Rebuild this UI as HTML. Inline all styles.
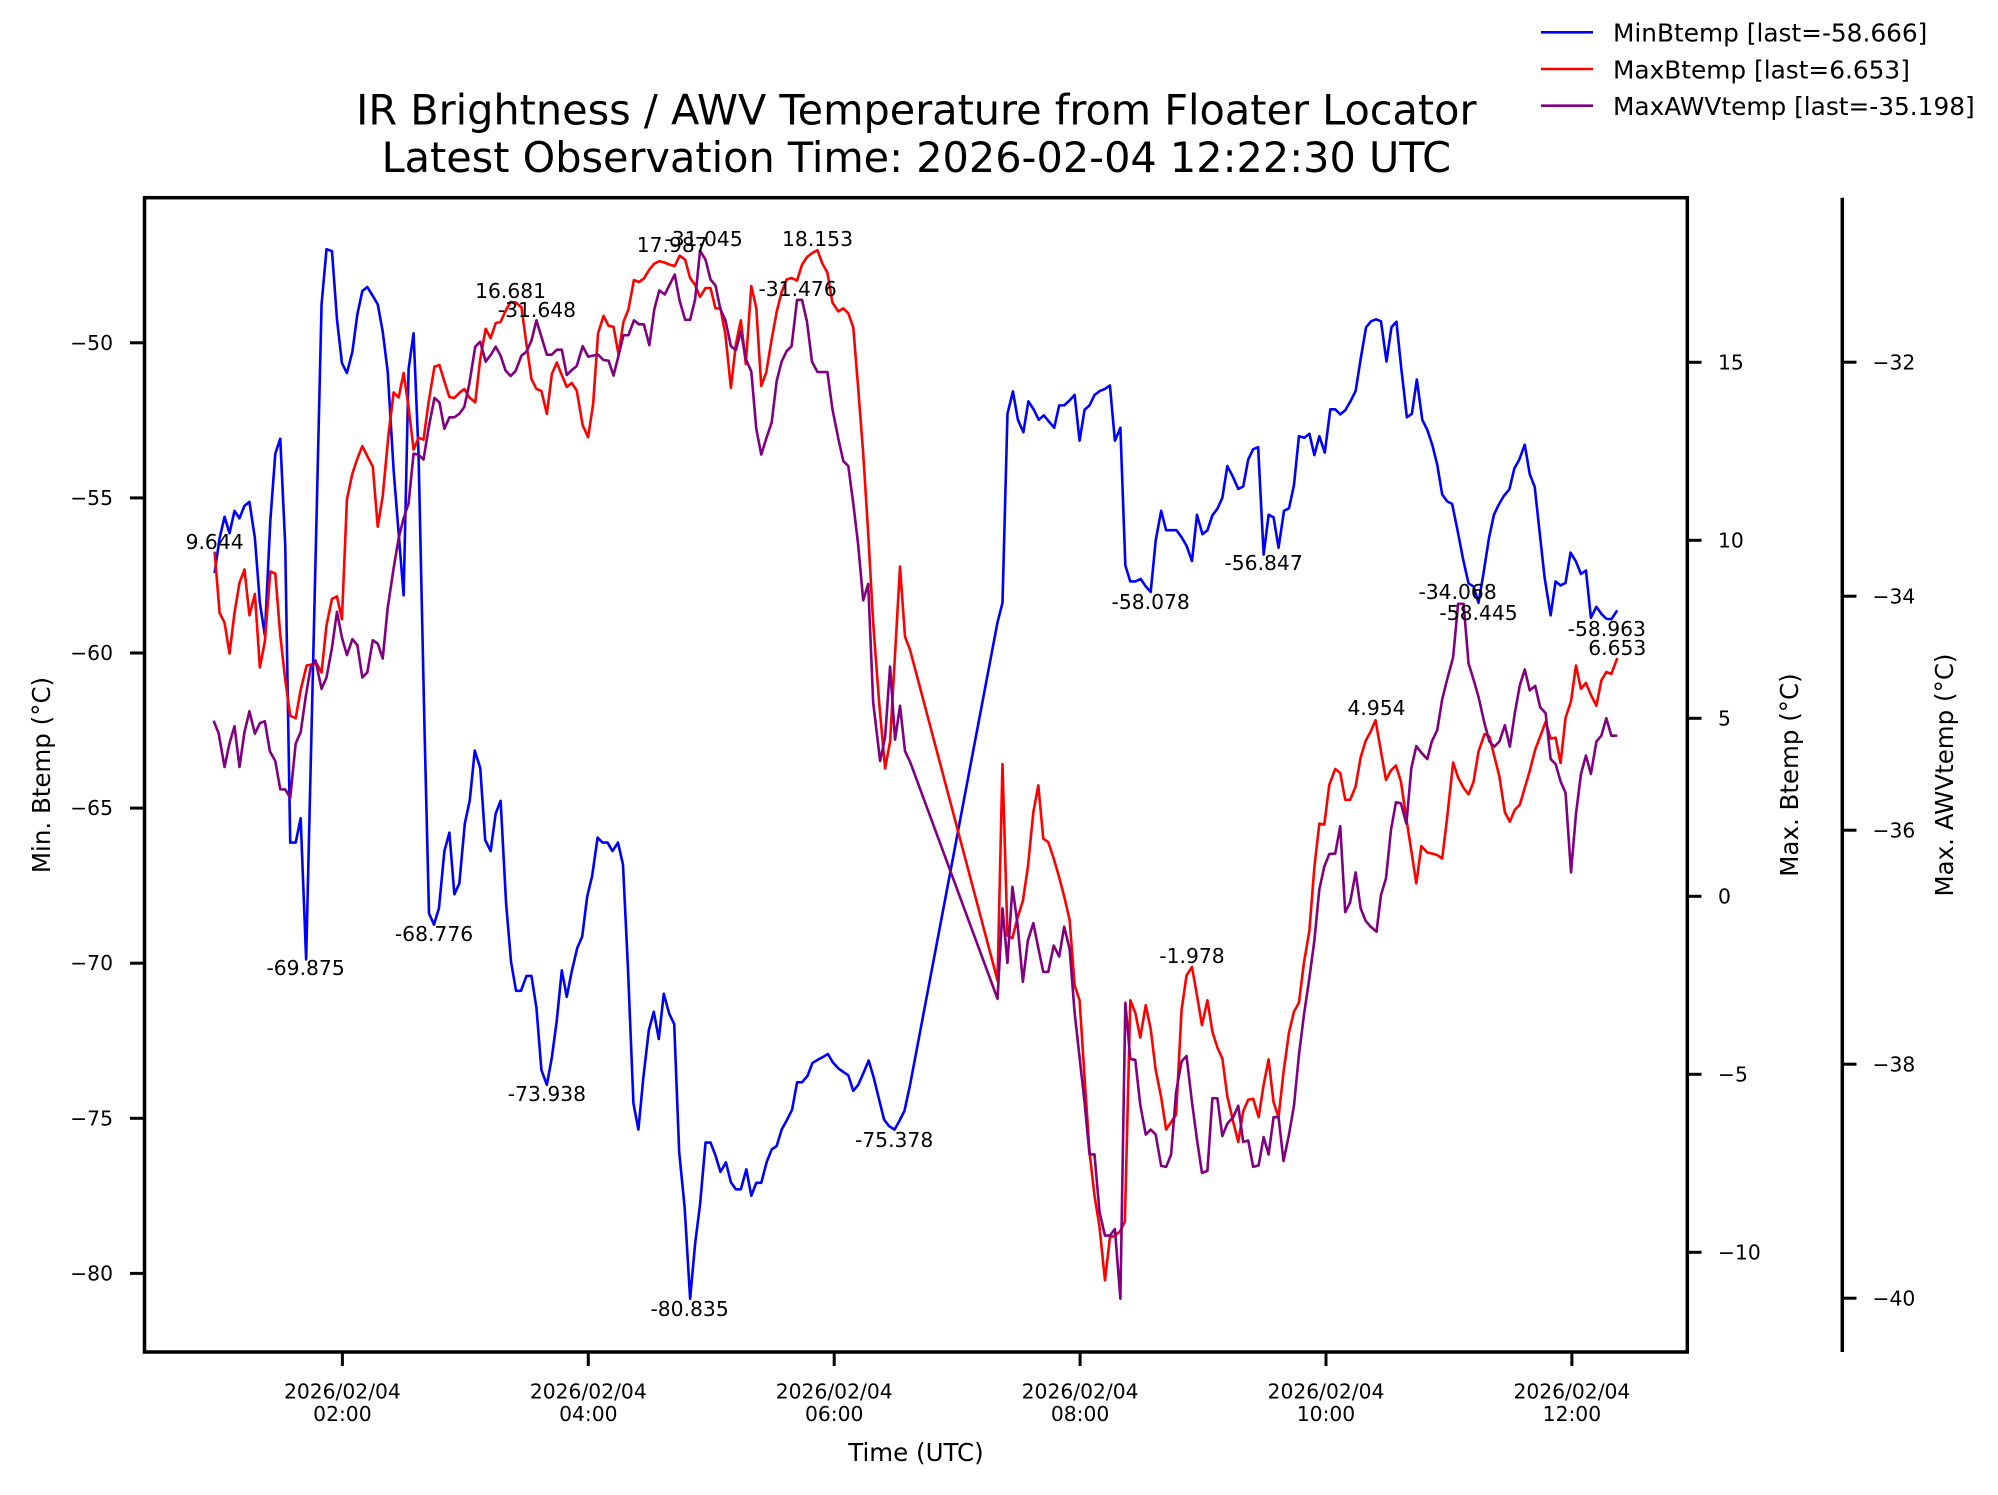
<!DOCTYPE html>
<html><head><meta charset="utf-8"><style>
html,body{margin:0;padding:0;background:#fff;}
svg{display:block;}
text{font-family:"DejaVu Sans","Liberation Sans",sans-serif;fill:#000;}
.tk{font-size:20.3px;}
.an{font-size:20.3px;text-anchor:middle;}
.ln{fill:none;stroke-width:2.6;stroke-linejoin:round;vector-effect:non-scaling-stroke;}
</style></head><body>
<svg width="1998" height="1495" viewBox="0 0 1998 1495" xmlns="http://www.w3.org/2000/svg">
<rect width="1998" height="1495" fill="#fff"/>

<!-- Title -->
<text x="916.3" y="124.5" font-size="41.4" text-anchor="middle">IR Brightness / AWV Temperature from Floater Locator</text>
<text x="916.3" y="172" font-size="41.4" text-anchor="middle">Latest Observation Time: 2026-02-04 12:22:30 UTC</text>

<!-- Legend -->
<line x1="1541" y1="32.3" x2="1593" y2="32.3" stroke="#0000ff" stroke-width="2.6"/>
<line x1="1541" y1="69" x2="1593" y2="69" stroke="#ff0000" stroke-width="2.6"/>
<line x1="1541" y1="105.7" x2="1593" y2="105.7" stroke="#800080" stroke-width="2.6"/>
<text x="1613" y="41.7" font-size="24.8">MinBtemp [last=-58.666]</text>
<text x="1613" y="78.4" font-size="24.8">MaxBtemp [last=6.653]</text>
<text x="1613" y="115.1" font-size="24.8">MaxAWVtemp [last=-35.198]</text>

<!-- Data -->
<g transform="translate(140,190) scale(0.4974)">
<polyline class="ln" stroke="#0000ff" points="150,770 160,700 170,657 180,690 190,645 200,660 210,635 220,627 231,700 241,830 251,895 262,665 272,530 282,500 292,715 302,1312 313,1312 323,1263 334,1547 365,230 375,119 386,123 396,260 406,348 416,368 427,325 437,250 447,203 457,195 468,213 478,230 488,285 498,365 510,565 520,690 530,815 540,360 550,288 560,530 572,1084 581,1454 591,1477 601,1444 612,1329 622,1292 632,1416 642,1394 653,1274 663,1227 673,1127 684,1162 694,1307 705,1329 715,1254 725,1228 736,1434 746,1552 756,1610 766,1610 777,1580 787,1580 797,1644 807,1769 818,1799 828,1744 838,1669 848,1569 858,1622 868,1571 879,1524 889,1501 899,1421 909,1379 920,1302 930,1312 940,1312 950,1329 961,1312 971,1356 981,1564 992,1836 1002,1889 1012,1784 1023,1689 1033,1652 1043,1707 1053,1616 1064,1656 1074,1677 1084,1934 1095,2046 1106,2229 1116,2119 1126,2039 1137,1915 1147,1915 1157,1941 1167,1974 1178,1955 1188,1995 1198,2009 1208,2009 1219,1969 1229,2022 1239,1996 1249,1996 1260,1954 1270,1929 1280,1922 1290,1889 1301,1869 1311,1849 1321,1794 1331,1794 1342,1781 1352,1755 1362,1749 1373,1743 1383,1737 1393,1754 1404,1766 1414,1773 1424,1780 1434,1811 1444,1799 1455,1774 1465,1750 1475,1784 1486,1829 1496,1869 1506,1882 1517,1889 1527,1871 1537,1851 1548,1800 1724,869 1734,830 1744,450 1755,405 1765,462 1776,487 1786,425 1796,440 1807,462 1817,453 1827,465 1838,478 1848,433 1858,433 1868,424 1879,412 1889,504 1899,442 1909,433 1919,412 1930,404 1940,400 1950,393 1960,504 1971,478 1981,755 1991,787 2001,787 2012,782 2022,797 2032,808 2042,705 2053,645 2063,684 2073,684 2084,684 2094,698 2104,715 2115,746 2125,653 2136,692 2146,684 2156,654 2166,641 2176,619 2186,555 2197,576 2208,601 2218,596 2228,542 2238,521 2248,517 2259,733 2269,653 2279,658 2289,719 2300,645 2310,640 2320,593 2330,495 2341,498 2351,490 2361,533 2371,495 2382,528 2393,441 2403,441 2413,451 2423,443 2434,424 2444,404 2454,340 2465,276 2475,264 2485,260 2495,264 2506,345 2516,276 2526,265 2536,361 2547,457 2557,450 2567,381 2578,462 2588,482 2598,512 2608,552 2618,612 2628,626 2638,631 2650,690 2660,742 2671,791 2681,797 2691,830 2701,771 2712,700 2722,653 2732,632 2742,615 2753,602 2763,560 2773,542 2784,512 2794,571 2804,597 2814,689 2824,780 2836,855 2846,787 2856,795 2866,790 2876,729 2887,747 2897,772 2907,765 2917,860 2928,838 2938,852 2948,862 2958,863 2970,845"/>
<polyline class="ln" stroke="#ff0000" points="150,727 160,850 170,870 180,932 190,850 200,790 210,763 220,855 231,812 241,960 251,908 262,767 272,771 282,895 292,985 302,1057 313,1062 323,1005 335,956 345,954 355,952 365,970 375,875 386,822 396,817 406,863 416,622 427,570 437,540 447,515 457,535 468,556 478,677 488,615 500,488 510,407 520,417 530,368 540,437 550,522 560,498 570,502 580,428 592,355 602,352 612,385 622,416 632,418 642,408 652,400 662,417 674,427 684,340 695,279 705,298 715,268 725,265 735,243 745,225 755,226 767,236 777,310 787,380 797,400 807,404 818,450 828,370 838,347 848,372 858,396 868,388 878,403 890,473 901,497 911,430 921,288 932,253 942,273 952,275 962,330 972,265 982,240 993,181 1003,185 1013,178 1024,160 1034,148 1044,143 1055,146 1065,150 1075,153 1085,132 1096,140 1106,177 1116,191 1126,215 1137,197 1147,197 1157,238 1167,238 1177,291 1188,398 1198,310 1208,262 1218,350 1229,193 1239,237 1249,394 1259,367 1270,300 1280,245 1290,205 1300,180 1310,177 1321,182 1331,150 1341,135 1351,127 1362,121 1372,148 1382,166 1392,226 1404,244 1414,238 1424,248 1434,276 1444,400 1454,530 1464,690 1474,870 1486,1030 1498,1163 1508,1109 1528,757 1538,898 1548,924 1724,1589 1734,1154 1744,1499 1754,1504 1764,1464 1775,1429 1785,1362 1796,1251 1806,1197 1816,1304 1826,1311 1837,1344 1848,1382 1859,1424 1869,1468 1879,1599 1889,1629 1899,1784 1909,1934 1919,2022 1929,2084 1940,2192 1950,2106 1960,2102 1970,2094 1980,2074 1991,1629 2001,1654 2011,1704 2022,1639 2032,1687 2042,1769 2053,1824 2063,1889 2073,1874 2083,1859 2094,1649 2104,1579 2115,1562 2125,1619 2135,1679 2146,1629 2156,1692 2166,1724 2176,1746 2186,1822 2198,1874 2208,1914 2218,1852 2228,1829 2238,1827 2249,1864 2259,1799 2269,1748 2279,1834 2289,1864 2299,1774 2310,1694 2320,1652 2330,1634 2340,1554 2351,1489 2361,1362 2371,1274 2381,1276 2391,1196 2403,1164 2413,1172 2423,1226 2433,1226 2444,1199 2454,1141 2464,1108 2474,1089 2484,1066 2495,1129 2505,1186 2515,1167 2525,1157 2535,1189 2546,1264 2556,1329 2566,1394 2576,1319 2588,1332 2597,1334 2608,1337 2618,1344 2628,1262 2640,1151 2650,1181 2661,1202 2671,1215 2681,1190 2691,1129 2703,1094 2713,1099 2723,1139 2733,1179 2744,1251 2754,1270 2764,1246 2774,1236 2784,1202 2794,1168 2805,1125 2815,1099 2826,1069 2836,1103 2846,1101 2856,1152 2866,1061 2877,1028 2887,956 2897,1003 2907,991 2917,1015 2928,1037 2938,986 2948,969 2958,973 2970,941"/>
<polyline class="ln" stroke="#800080" points="148,1067 158,1092 170,1160 180,1112 190,1078 200,1160 210,1090 220,1048 231,1093 241,1072 251,1068 261,1128 272,1148 282,1205 292,1205 302,1222 313,1113 323,1090 333,1020 343,960 353,946 365,1003 375,980 386,920 396,848 406,900 416,935 427,903 437,915 447,980 457,970 468,905 478,912 488,942 498,840 510,760 520,700 530,660 540,630 550,530 560,532 570,542 580,480 592,418 602,427 612,480 622,457 632,457 642,450 652,436 662,390 674,315 684,305 695,345 705,332 715,315 725,333 735,363 745,374 755,364 767,333 777,325 787,303 797,262 807,295 818,331 828,331 838,321 848,321 858,372 868,362 878,354 890,314 901,335 911,333 921,331 932,342 942,343 952,373 962,333 972,292 982,292 993,262 1003,270 1013,270 1024,312 1034,240 1044,202 1055,210 1065,190 1075,170 1085,223 1096,261 1106,261 1116,220 1126,122 1137,140 1147,180 1157,192 1167,240 1177,262 1188,314 1198,322 1208,284 1218,340 1229,365 1239,480 1249,532 1259,500 1270,467 1280,384 1290,345 1300,324 1310,314 1321,221 1331,221 1341,265 1351,345 1362,366 1372,366 1382,366 1392,440 1404,500 1414,545 1424,555 1434,630 1444,715 1454,825 1464,792 1474,1030 1488,1148 1498,1100 1508,958 1518,1105 1528,1037 1538,1128 1548,1149 1724,1626 1734,1444 1744,1554 1754,1401 1764,1474 1775,1592 1785,1509 1796,1474 1806,1524 1816,1572 1826,1572 1837,1519 1848,1541 1858,1481 1869,1526 1879,1654 1889,1744 1899,1834 1909,1939 1919,1939 1929,2054 1940,2102 1950,2102 1960,2089 1971,2229 1981,1634 1991,1747 2001,1749 2011,1839 2022,1899 2032,1889 2042,1899 2053,1962 2063,1964 2073,1939 2083,1814 2094,1752 2104,1741 2115,1834 2125,1909 2135,1976 2146,1972 2156,1826 2166,1826 2176,1902 2186,1877 2198,1864 2208,1841 2218,1914 2228,1911 2238,1964 2249,1961 2259,1904 2269,1939 2279,1864 2289,1864 2299,1952 2310,1899 2320,1841 2330,1739 2340,1659 2351,1584 2361,1509 2371,1406 2381,1360 2391,1335 2403,1334 2413,1279 2423,1452 2433,1432 2444,1372 2454,1444 2464,1469 2474,1481 2486,1491 2495,1417 2505,1384 2515,1287 2525,1231 2535,1233 2546,1274 2556,1162 2566,1118 2576,1131 2588,1144 2597,1109 2608,1086 2618,1024 2628,984 2640,939 2650,832 2661,832 2671,952 2681,984 2691,1019 2703,1072 2713,1109 2723,1119 2733,1109 2744,1076 2754,1119 2764,1052 2774,996 2784,964 2794,1006 2805,997 2815,1040 2826,1052 2836,1144 2846,1154 2856,1189 2866,1212 2877,1372 2887,1254 2897,1174 2907,1137 2917,1174 2928,1109 2938,1097 2948,1062 2958,1097 2970,1097"/>
</g>

<!-- Annotations -->
<text class="an" x="214.6" y="549">9.644</text>
<text class="an" x="510.6" y="298">16.681</text>
<text class="an" x="536.9" y="317">-31.648</text>
<text class="an" x="672.2" y="252">17.987</text>
<text class="an" x="703.6" y="246">-31.045</text>
<text class="an" x="817.5" y="246">18.153</text>
<text class="an" x="797.6" y="296">-31.476</text>
<text class="an" x="305.6" y="975">-69.875</text>
<text class="an" x="434" y="941">-68.776</text>
<text class="an" x="546.9" y="1101">-73.938</text>
<text class="an" x="689.6" y="1316">-80.835</text>
<text class="an" x="894.1" y="1147">-75.378</text>
<text class="an" x="1150.7" y="609">-58.078</text>
<text class="an" x="1263.6" y="570">-56.847</text>
<text class="an" x="1457.6" y="599">-34.068</text>
<text class="an" x="1478.5" y="620">-58.445</text>
<text class="an" x="1606.8" y="636">-58.963</text>
<text class="an" x="1617.3" y="655">6.653</text>
<text class="an" x="1376.5" y="715">4.954</text>
<text class="an" x="1192" y="963">-1.978</text>

<!-- Axes frame -->
<rect x="144.5" y="197.7" width="1542.8" height="1154.3" fill="none" stroke="#000" stroke-width="3.5"/>
<line x1="1842.3" y1="197.7" x2="1842.3" y2="1352" stroke="#000" stroke-width="3.5"/>

<!-- Left ticks -->
<g stroke="#000" stroke-width="3">
<line x1="130" y1="342.8" x2="144.5" y2="342.8"/>
<line x1="130" y1="497.9" x2="144.5" y2="497.9"/>
<line x1="130" y1="653" x2="144.5" y2="653"/>
<line x1="130" y1="808.1" x2="144.5" y2="808.1"/>
<line x1="130" y1="963.2" x2="144.5" y2="963.2"/>
<line x1="130" y1="1118.3" x2="144.5" y2="1118.3"/>
<line x1="130" y1="1273.4" x2="144.5" y2="1273.4"/>
<!-- right ticks -->
<line x1="1687.3" y1="362.3" x2="1701.5" y2="362.3"/>
<line x1="1687.3" y1="540.3" x2="1701.5" y2="540.3"/>
<line x1="1687.3" y1="718.3" x2="1701.5" y2="718.3"/>
<line x1="1687.3" y1="896.3" x2="1701.5" y2="896.3"/>
<line x1="1687.3" y1="1074.3" x2="1701.5" y2="1074.3"/>
<line x1="1687.3" y1="1252.3" x2="1701.5" y2="1252.3"/>
<!-- third ticks -->
<line x1="1842.3" y1="362.2" x2="1856.5" y2="362.2"/>
<line x1="1842.3" y1="596.2" x2="1856.5" y2="596.2"/>
<line x1="1842.3" y1="830.2" x2="1856.5" y2="830.2"/>
<line x1="1842.3" y1="1064.2" x2="1856.5" y2="1064.2"/>
<line x1="1842.3" y1="1298.2" x2="1856.5" y2="1298.2"/>
<!-- x ticks -->
<line x1="342.4" y1="1352" x2="342.4" y2="1366"/>
<line x1="588.3" y1="1352" x2="588.3" y2="1366"/>
<line x1="834.2" y1="1352" x2="834.2" y2="1366"/>
<line x1="1080.1" y1="1352" x2="1080.1" y2="1366"/>
<line x1="1326" y1="1352" x2="1326" y2="1366"/>
<line x1="1571.9" y1="1352" x2="1571.9" y2="1366"/>
</g>

<!-- Left tick labels -->
<g class="tk" text-anchor="end">
<text x="113" y="350">−50</text>
<text x="113" y="505">−55</text>
<text x="113" y="660">−60</text>
<text x="113" y="815">−65</text>
<text x="113" y="970">−70</text>
<text x="113" y="1125.5">−75</text>
<text x="113" y="1280.5">−80</text>
</g>
<!-- Right tick labels -->
<g class="tk">
<text x="1718" y="369.5">15</text>
<text x="1718" y="547.5">10</text>
<text x="1718" y="725.5">5</text>
<text x="1718" y="903.5">0</text>
<text x="1718" y="1081.5">−5</text>
<text x="1718" y="1259.5">−10</text>
<text x="1872.5" y="369.5">−32</text>
<text x="1872.5" y="603.5">−34</text>
<text x="1872.5" y="837.5">−36</text>
<text x="1872.5" y="1071.5">−38</text>
<text x="1872.5" y="1305.5">−40</text>
</g>
<!-- X tick labels -->
<g class="tk" text-anchor="middle">
<text x="342.4" y="1398.5">2026/02/04</text><text x="342.4" y="1421">02:00</text>
<text x="588.3" y="1398.5">2026/02/04</text><text x="588.3" y="1421">04:00</text>
<text x="834.2" y="1398.5">2026/02/04</text><text x="834.2" y="1421">06:00</text>
<text x="1080.1" y="1398.5">2026/02/04</text><text x="1080.1" y="1421">08:00</text>
<text x="1326" y="1398.5">2026/02/04</text><text x="1326" y="1421">10:00</text>
<text x="1571.9" y="1398.5">2026/02/04</text><text x="1571.9" y="1421">12:00</text>
</g>

<!-- Axis labels -->
<text x="916" y="1461" font-size="24.5" text-anchor="middle">Time (UTC)</text>
<text transform="translate(50,775) rotate(-90)" font-size="24.5" text-anchor="middle">Min. Btemp (°C)</text>
<text transform="translate(1798,775) rotate(-90)" font-size="24.5" text-anchor="middle">Max. Btemp (°C)</text>
<text transform="translate(1953,775) rotate(-90)" font-size="24.5" text-anchor="middle">Max. AWVtemp (°C)</text>
</svg>
</body></html>
